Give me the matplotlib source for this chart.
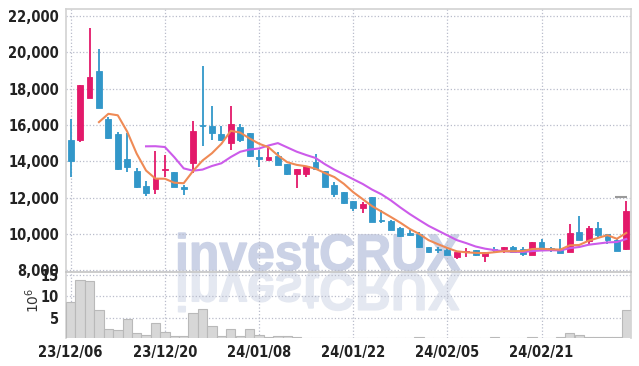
import matplotlib
matplotlib.use("Agg")
import matplotlib.pyplot as plt
from matplotlib import font_manager
from matplotlib.textpath import TextPath
from matplotlib.font_manager import FontProperties
from matplotlib.patches import PathPatch
from matplotlib.transforms import Affine2D
import numpy as np
import pandas as pd

# daily candles (KRW)
opens = [15200, 15170, 17500, 19000, 16330, 15500, 14120, 13460, 12650, 12450,
         13500, 13400, 12520, 13930, 15960, 15940, 15500, 15020, 15870, 15570,
         14160, 14080, 14290, 13850, 13310, 13310, 13970, 13480, 12690, 12300,
         11800, 11440, 12010, 10720, 10720, 10300, 10060, 10020, 9290, 9120,
         9100, 8700, 8980, 9100, 8790, 9120, 9160, 9250, 9140, 8830,
         9570, 9180, 9160, 9010, 10110, 9620, 10340, 9990, 9660, 9160]
highs = [16330, 18200, 21320, 20160, 16450, 15590, 15540, 13640, 12930, 14580,
         14330, 13420, 12690, 16200, 19250, 17060, 15940, 17060, 16030, 15580,
         14620, 14710, 14530, 13860, 13600, 13760, 14400, 13480, 12840, 12300,
         11800, 11770, 12010, 11310, 10760, 10380, 10210, 10080, 9300, 9290,
         9230, 9010, 9240, 9100, 9010, 9290, 9290, 9310, 9300, 9570,
         9700, 9300, 9700, 10540, 10980, 10430, 10630, 9990, 9790, 11820]
lows = [13150, 15080, 17500, 16950, 15220, 13520, 13390, 12520, 12080, 12190,
        13150, 12580, 12140, 13370, 14840, 15170, 15130, 14620, 15080, 14250,
        13700, 14080, 13790, 13240, 12510, 13150, 13550, 12600, 12050, 11640,
        11260, 11130, 10660, 10610, 10200, 9850, 9910, 9230, 8970, 8920,
        8830, 8590, 8740, 8780, 8460, 8920, 8920, 9010, 8780, 8830,
        9160, 9000, 8920, 9010, 9650, 9440, 9840, 9470, 9070, 9100]
closes = [14000, 18200, 18640, 16950, 15290, 13590, 13700, 12600, 12270, 13060,
          13560, 12600, 12470, 15660, 15920, 15570, 15190, 16050, 15170, 14300,
          14130, 14230, 13790, 13290, 13570, 13750, 13550, 12600, 12180, 11720,
          11440, 11640, 10670, 10690, 10210, 9880, 9920, 9290, 8980, 9090,
          8830, 9010, 9010, 8830, 9010, 9090, 9290, 9010, 8870, 9570,
          9160, 9150, 8920, 10060, 9650, 10340, 9930, 9660, 9070, 11260]
prev_close = 13000  # close before the first visible day (feeds the MAs)

# volume, millions of shares
volumes = [8.7, 13.8, 13.4, 6.7, 2.3, 2.1, 4.6, 1.5, 1.0, 3.7,
           1.7, 0.7, 0.7, 6.0, 6.9, 3.1, 0.7, 2.3, 0.7, 2.3,
           1.0, 0.5, 0.7, 0.7, 0.45, 0.3, 0.35, 0.35, 0.35, 0.35,
           0.35, 0.35, 0.35, 0.35, 0.35, 0.35, 0.35, 0.5, 0.35, 0.35,
           0.35, 0.35, 0.35, 0.35, 0.35, 0.5, 0.35, 0.35, 0.35, 0.5,
           0.35, 0.35, 0.5, 1.5, 1.0, 0.5, 0.5, 0.5, 0.5, 6.7]

tick_pos = [0, 10, 20, 30, 40, 50]
tick_labels = ["23/12/06", "23/12/20", "24/01/08", "24/01/22", "24/02/05", "24/02/21"]
price_ticks = [8000, 10000, 12000, 14000, 16000, 18000, 20000, 22000]
vol_ticks = [5, 10, 15]
limit_mark = 12030

UP = "#e3196a"
DOWN = "#3297c9"

# pick a narrow face for the tick labels if one is installed
fonts = font_manager.fontManager.ttflist
if any(f.name == "Liberation Sans Narrow" for f in fonts):
    label_prop = dict(family="Liberation Sans Narrow", weight="bold", size=11.5)
elif any(f.name == "DejaVu Sans" and f.stretch == "condensed" for f in fonts):
    label_prop = dict(family="DejaVu Sans", stretch="condensed", weight="bold", size=10.5)
else:
    label_prop = dict(family="Liberation Sans", weight="bold", size=9.8)

W, H = 639, 366
fig = plt.figure(figsize=(W / 100, H / 100), dpi=100)
ax = fig.add_axes([66 / W, 1 - 272 / H, (631 - 66) / W, (272 - 9) / H])
axv = fig.add_axes([66 / W, 1 - 338 / H, (631 - 66) / W, (338 - 272) / H], sharex=ax)
for a in (ax, axv):
    a.set_facecolor("none")

# watermark + its reflection, drawn behind the axes
tp = TextPath((0, 0), "investCRUX", size=50,
              prop=FontProperties(family="Liberation Sans", weight="bold"))
v = tp.vertices
xmin, xmax, ymax = v[:, 0].min(), v[:, 0].max(), v[:, 1].max()
sx = (460 - 175) / (xmax - xmin)
sy = 37 / ymax
to_fig = Affine2D().scale(1 / W, 1 / H) + fig.transFigure
main_tr = Affine2D().translate(-xmin, 0).scale(sx, sy).translate(175, H - 270) + to_fig
refl_tr = Affine2D().translate(-xmin, 0).scale(sx, -sy * 1.05).translate(175, H - 273) + to_fig
fig.patches.append(PathPatch(tp, transform=refl_tr, facecolor="#e4e8f1", edgecolor="#e4e8f1",
                             linewidth=1.0, zorder=-2))
fig.patches.append(PathPatch(tp, transform=main_tr, facecolor="#cbd2e6", edgecolor="#cbd2e6",
                             linewidth=1.0, zorder=-2))

x = np.arange(len(closes))
o = np.array(opens)
c = np.array(closes)
colors = [UP if cc >= oo else DOWN for oo, cc in zip(o, c)]

ax.vlines(x, lows, highs, colors=colors, linewidth=1.3, zorder=3)
body = np.maximum(np.abs(c - o), 90)
ax.bar(x, body, bottom=np.minimum(o, c), width=0.62, color=colors,
       edgecolor=colors, linewidth=0.6, zorder=4)

s = pd.Series([prev_close] + closes, dtype=float)
ma5 = s.rolling(5).mean().iloc[1:].to_numpy()
ma10 = s.rolling(10).mean().iloc[1:].to_numpy()
ax.plot(x, ma10, color="#cc5bea", linewidth=1.5, zorder=5)
ax.plot(x, ma5, color="#ef8a55", linewidth=1.5, zorder=5)
ax.hlines(limit_mark, 57.8, 59.1, color="#9a9a9a", linewidth=1.5, zorder=5)

ax.set_xlim(-0.5, 59.5)
ax.set_ylim(7900, 22390)
ax.set_yticks(price_ticks)
ax.set_yticklabels([f"{t:,}" for t in price_ticks])
ax.set_xticks(tick_pos)
ax.tick_params(axis="x", labelbottom=False)

axv.bar(x, volumes, width=1.0, color="#d7d7d7", edgecolor="#b9b9b9", linewidth=0.8, zorder=3)
axv.set_ylim(0.25, 15.6)
axv.set_yticks(vol_ticks)
axv.set_xticks(tick_pos)
axv.set_xticklabels(tick_labels)

for a in (ax, axv):
    a.grid(True, linestyle=":", color="#b9bccb", linewidth=0.9, zorder=0)
    a.set_axisbelow(True)
    a.tick_params(length=0, colors="#222222", pad=5)
    for lab in a.get_xticklabels() + a.get_yticklabels():
        lab.set(**{("fontstretch" if k == "stretch" else "font" + k if k in ("family", "weight", "size") else k): val
                   for k, val in label_prop.items()})
    for sp in a.spines.values():
        sp.set_color("#d2d2d2")
        sp.set_linewidth(1.2)
ax.spines["bottom"].set_visible(False)
axv.spines["bottom"].set_visible(False)
axv.spines["top"].set_color("#c4c4c4")

fig.text(33 / W, 1 - 300 / H, r"$10^6$", rotation=90, ha="center", va="center",
         fontsize=10, color="#333333")

fig.savefig("out.png", dpi=100)
